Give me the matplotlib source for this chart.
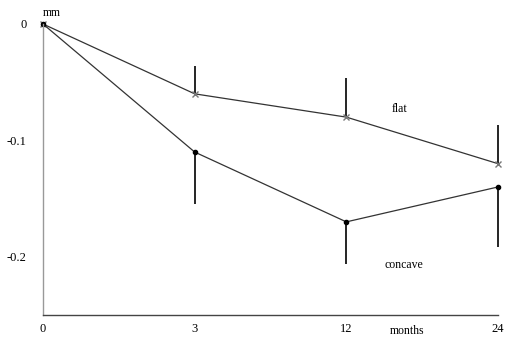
import matplotlib.pyplot as plt

plt.rcParams['font.family'] = ['Liberation Serif', 'DejaVu Serif']

months = ["0", "3", "12", "24"]
flat = [0, -0.06, -0.08, -0.12]
flat_err = [0, 0.024, 0.034, 0.033]
concave = [0, -0.11, -0.17, -0.14]
concave_err = [0, 0.045, 0.036, 0.052]

fig = plt.figure(figsize=(5.14, 3.44), dpi=100)
ax = fig.add_axes([43 / 514, 29 / 344, 455 / 514, 291 / 344])

x = range(len(months))
zeros = [0] * len(months)

ax.errorbar(x, flat, yerr=[zeros, flat_err], color='#333333', lw=0.9,
            marker='x', ms=4, mec='#777777', ecolor='black', elinewidth=1.2,
            capsize=0, clip_on=False)
ax.errorbar(x, concave, yerr=[concave_err, zeros], color='#333333', lw=0.9,
            marker='o', ms=3, mfc='black', mec='black', ecolor='black',
            elinewidth=1.2, capsize=0, clip_on=False)

ax.set_xlim(0, 3)
ax.set_ylim(-0.25, 0)
ax.set_xticks(list(x))
ax.set_xticklabels(months)
ax.set_yticks([0, -0.1, -0.2])
ax.set_yticklabels(["0", "-0.1", "-0.2"])
ax.tick_params(axis='x', length=0, pad=6, labelsize=9)
ax.tick_params(axis='y', length=0, pad=12, labelsize=9)

for s in ['top', 'right']:
    ax.spines[s].set_visible(False)
ax.spines['left'].set_color('#999999')
ax.spines['bottom'].set_color('#444444')
ax.spines['left'].set_linewidth(1.0)
ax.spines['bottom'].set_linewidth(1.0)

ax.text(2.35, -0.073, "flat", fontsize=8.5, ha='center', va='center')
ax.text(2.38, -0.207, "concave", fontsize=8.5, ha='center', va='center')
ax.text(0.06, 0.0095, "mm", fontsize=8.5, ha='center', va='center', clip_on=False)
ax.text(2.4, -0.2635, "months", fontsize=8.5, ha='center', va='center', clip_on=False)

fig.savefig("out.png", dpi=100)
